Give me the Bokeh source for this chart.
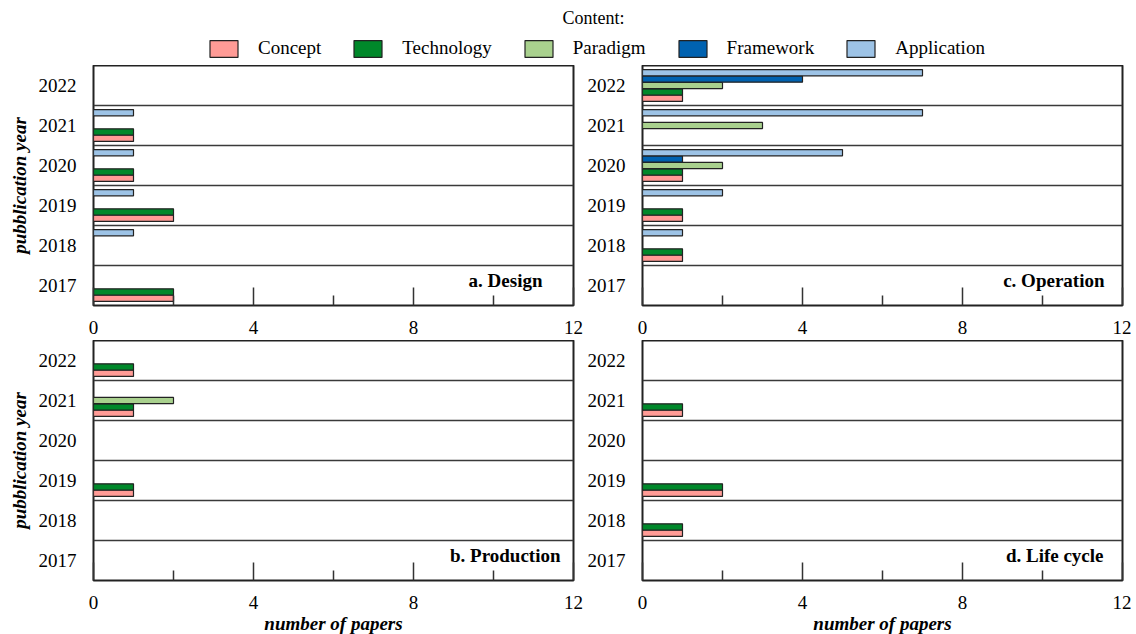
from bokeh.plotting import figure
from bokeh.models import (Range1d, FixedTicker, Span, Label, Legend, LegendItem,
                          ColumnDataSource)
from bokeh.layouts import column, row
from bokeh.transform import dodge
from bokeh.embed import file_html
from bokeh.resources import INLINE

# ---------------- data ----------------
years = [2017, 2018, 2019, 2020, 2021, 2022]
series = ["Concept", "Technology", "Paradigm", "Framework", "Application"]
colors = ["#FF9B96", "#00882A", "#A9D18E", "#0062B0", "#9DC3E6"]

design_concept     = [2, 0, 2, 1, 1, 0]
design_technology  = [2, 0, 2, 1, 1, 0]
design_paradigm    = [0, 0, 0, 0, 0, 0]
design_framework   = [0, 0, 0, 0, 0, 0]
design_application = [0, 1, 1, 1, 1, 0]

production_concept     = [0, 0, 1, 0, 1, 1]
production_technology  = [0, 0, 1, 0, 1, 1]
production_paradigm    = [0, 0, 0, 0, 2, 0]
production_framework   = [0, 0, 0, 0, 0, 0]
production_application = [0, 0, 0, 0, 0, 0]

operation_concept     = [0, 1, 1, 1, 0, 1]
operation_technology  = [0, 1, 1, 1, 0, 1]
operation_paradigm    = [0, 0, 0, 2, 3, 2]
operation_framework   = [0, 0, 0, 1, 0, 4]
operation_application = [0, 1, 2, 5, 7, 7]

lifecycle_concept     = [0, 1, 2, 0, 1, 0]
lifecycle_technology  = [0, 1, 2, 0, 1, 0]
lifecycle_paradigm    = [0, 0, 0, 0, 0, 0]
lifecycle_framework   = [0, 0, 0, 0, 0, 0]
lifecycle_application = [0, 0, 0, 0, 0, 0]

x_ticks = [0, 4, 8, 12]
x_minor_ticks = [2, 6, 10]

panel_titles = ["a. Design", "b. Production", "c. Operation", "d. Life cycle"]
legend_title = "Content:"
y_title = "pubblication year"
x_title = "number of papers"

# ---------------- style ----------------
FONT = "Liberation Serif"
FS = "19px"
OFFSETS = [-0.32, -0.16, 0.0, 0.16, 0.32]
BAR_H = 0.155


def make_panel(vals, tag, tag_dx, left_b, right_b, bottom_b, show_y, show_x):
    p = figure(frame_width=480, frame_height=240,
               x_range=Range1d(0, 12), y_range=Range1d(years[0] - 0.5, years[-1] + 0.5),
               output_backend="svg", toolbar_location=None,
               min_border_left=left_b, min_border_right=right_b,
               min_border_top=0, min_border_bottom=bottom_b,
               background_fill_color="white", border_fill_color="white")
    p.grid.visible = False
    p.outline_line_color = "#222222"
    p.outline_line_width = 2

    for b in years[:-1]:
        p.add_layout(Span(location=b + 0.5, dimension="width",
                          line_color="#3a3a3a", line_width=1.5))

    for name, col, off, v in zip(series, colors, OFFSETS, vals):
        ys = [y for y, n in zip(years, v) if n > 0]
        ns = [n for n in v if n > 0]
        src = ColumnDataSource(dict(year=ys, n=ns))
        p.hbar(y=dodge("year", off), left=0, right="n", height=BAR_H, source=src,
               fill_color=col, line_color="#222222", line_width=1.2)

    xa = p.xaxis[0]
    xa.ticker = FixedTicker(ticks=x_ticks, minor_ticks=x_minor_ticks)
    xa.axis_line_color = None
    xa.major_tick_in = 18
    xa.major_tick_out = 0
    xa.minor_tick_in = 10
    xa.minor_tick_out = 0
    xa.major_tick_line_color = "#333333"
    xa.major_tick_line_width = 1.5
    xa.minor_tick_line_color = "#333333"
    xa.minor_tick_line_width = 1.5
    xa.major_label_standoff = 15
    xa.major_label_text_font = FONT
    xa.major_label_text_font_size = FS
    xa.major_label_text_color = "black"
    if show_x:
        xa.axis_label = x_title
        xa.axis_label_text_font = FONT
        xa.axis_label_text_font_size = FS
        xa.axis_label_text_font_style = "bold italic"
        xa.axis_label_text_color = "black"
        xa.axis_label_standoff = 1

    ya = p.yaxis[0]
    ya.ticker = FixedTicker(ticks=years, minor_ticks=[])
    ya.major_label_overrides = {y: str(y) for y in years}
    ya.axis_line_color = None
    ya.major_tick_line_color = None
    ya.minor_tick_line_color = None
    ya.major_tick_out = 0
    ya.major_tick_in = 0
    ya.major_label_standoff = 17
    ya.major_label_text_font = FONT
    ya.major_label_text_font_size = FS
    ya.major_label_text_color = "black"
    if show_y:
        ya.axis_label = y_title
        ya.axis_label_text_font = FONT
        ya.axis_label_text_font_size = FS
        ya.axis_label_text_font_style = "bold italic"
        ya.axis_label_text_color = "black"
        ya.axis_label_standoff = 6

    p.add_layout(Label(x=x_ticks[-1], y=years[0] - 0.5, x_offset=tag_dx, y_offset=25,
                       text=tag, text_align="right", text_baseline="alphabetic",
                       text_font=FONT, text_font_size=FS, text_font_style="bold",
                       text_color="black"))
    return p


pa = make_panel([design_concept, design_technology, design_paradigm,
                 design_framework, design_application],
                panel_titles[0], -31, 93, 11, 35, True, False)
pb = make_panel([production_concept, production_technology, production_paradigm,
                 production_framework, production_application],
                panel_titles[1], -13, 93, 11, 54, True, True)
pc = make_panel([operation_concept, operation_technology, operation_paradigm,
                 operation_framework, operation_application],
                panel_titles[2], -18, 58, 9, 35, False, False)
pd = make_panel([lifecycle_concept, lifecycle_technology, lifecycle_paradigm,
                 lifecycle_framework, lifecycle_application],
                panel_titles[3], -19, 58, 9, 54, False, True)

# ---------------- header with legend ----------------
hdr = figure(width=1131, height=65, x_range=Range1d(0, 1), y_range=Range1d(0, 1),
             x_axis_location=None, y_axis_location=None,
             output_backend="svg", toolbar_location=None, min_border=0,
             background_fill_color="white", border_fill_color="white")
hdr.grid.visible = False
hdr.outline_line_color = None
items = []
for name, col in zip(series, colors):
    # off-screen dummy bar: only its legend swatch is shown
    r = hdr.hbar(y=[-5], right=[1], height=1, fill_color=col,
                 line_color="#222222", line_width=1.2)
    items.append(LegendItem(label=name, renderers=[r]))
leg = Legend(items=items, orientation="horizontal", location=(206, 6),
             padding=0, margin=0, spacing=29, label_standoff=17,
             glyph_width=35, glyph_height=21, label_height=21,
             label_text_font=FONT, label_text_font_size=FS,
             label_text_color="black",
             border_line_color=None, background_fill_alpha=0)
hdr.add_layout(leg)
hdr.add_layout(Label(x=593, y=48, x_units="screen", y_units="screen",
                     text=legend_title, text_align="center",
                     text_baseline="alphabetic", text_font=FONT,
                     text_font_size="18px", text_color="black"))

layout = column(hdr, row(column(pa, pb), column(pc, pd)))
open("out.html", "w").write(file_html(layout, INLINE))
